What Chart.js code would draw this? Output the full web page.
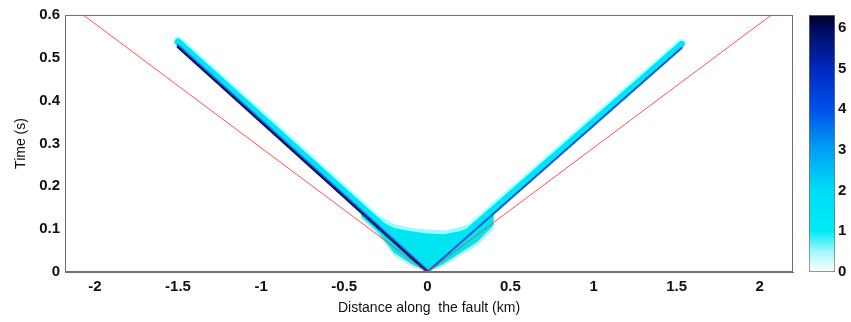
<!DOCTYPE html>
<html>
<head>
<meta charset="utf-8">
<script src="https://cdn.jsdelivr.net/npm/chart.js@4.4.1/dist/chart.umd.min.js"></script>
<style>
  body { margin: 0; background: #fff; }
  #wrap { position: relative; width: 851px; height: 322px; }
  #main { position: absolute; left: 0; top: 0; }
  #cbar { position: absolute; left: 800px; top: 0; }
</style>
</head>
<body>
<div id="wrap">
  <canvas id="main" width="800" height="322"></canvas>
  <canvas id="cbar" width="51" height="322"></canvas>
</div>
<script>
// reference lines (red)
const redX = [-2.07, 0, 2.07];
const redT = [0.6, 0, 0.6];

// rupture front branches
const leftX = [0, -1.5];
const leftT = [0, 0.525];
const leftMidT = [0.004, 0.529];
const leftCyanT = [0.013, 0.537];
const leftHaloT = [0.018, 0.54];

const rightX = [0, 1.53];
const rightT = [0, 0.523];
const rightCyanT = [0.011, 0.532];
const rightHaloT = [0.016, 0.535];

// nucleation blob near the hypocentre
const blobX = [-0.4, -0.3, -0.2, -0.1, 0, 0.1, 0.2, 0.3, 0.4];
const blobTop = [0.148, 0.122, 0.103, 0.095, 0.09, 0.088, 0.096, 0.11, 0.145];
const blobBottom = [0.13, 0.095, 0.045, 0.02, 0, 0.02, 0.045, 0.07, 0.11];
const blobOuterTop = [0.158, 0.133, 0.112, 0.103, 0.099, 0.097, 0.105, 0.119, 0.155];
const blobOuterBottom = [0.125, 0.088, 0.038, 0.014, 0, 0.014, 0.038, 0.062, 0.1];

// colorbar
const cbarMax = 6.32;
const cbarTicks = [0, 1, 2, 3, 4, 5, 6];
const cmapValues = [0, 0.5, 1, 2, 3, 4, 5, 6, 6.32];
const cmapColors = ['#ffffff', '#a0f8ff', '#00ebf5', '#00dcf5', '#00a0f5', '#0050eb', '#0028be', '#000a5a', '#00001e'];

const FONT = '"Liberation Sans", Arial, sans-serif';

function pts(xs, ts) {
  return xs.map((x, i) => ({ x: x, y: ts[i] }));
}

function lineSet(xs, ts, color, width, order) {
  return {
    data: pts(xs, ts),
    showLine: true,
    borderColor: color,
    borderWidth: width,
    borderCapStyle: 'round',
    pointRadius: 0,
    fill: false,
    order: order
  };
}

const frame = {
  id: 'frame',
  afterDatasetsDraw(chart) {
    const a = chart.chartArea;
    const c = chart.ctx;
    c.save();
    c.strokeStyle = '#707070';
    c.lineWidth = 1;
    c.strokeRect(a.left + 0.5, a.top + 0.5, a.right - a.left - 1, a.bottom - a.top - 1);
    c.restore();
  }
};

const tickFont = { family: FONT, size: 15, weight: 'bold' };

new Chart(document.getElementById('main'), {
  type: 'scatter',
  data: {
    datasets: [
      lineSet(redX, redT, 'rgba(255,60,60,0.9)', 1, 0),
      lineSet(leftX, leftT, '#001478', 2.5, 1),
      lineSet(rightX, rightT, '#0064eb', 2, 1),
      lineSet(leftX, leftMidT, '#0096f5', 3, 2),
      Object.assign(lineSet(blobX, blobTop, 'rgba(0,0,0,0)', 0, 3), { fill: '+1', backgroundColor: '#00e6f0' }),
      lineSet(blobX, blobBottom, 'rgba(0,0,0,0)', 0, 3),
      lineSet(leftX, leftCyanT, '#00e6f0', 7, 4),
      lineSet(rightX, rightCyanT, '#00e6f0', 6.5, 4),
      Object.assign(lineSet(blobX, blobOuterTop, 'rgba(0,0,0,0)', 0, 5), { fill: '+1', backgroundColor: '#a8f5fa' }),
      lineSet(blobX, blobOuterBottom, 'rgba(0,0,0,0)', 0, 5),
      lineSet(leftX, leftHaloT, '#c0f9ff', 9, 6),
      lineSet(rightX, rightHaloT, '#c0f9ff', 8.5, 6)
    ]
  },
  options: {
    responsive: false,
    animation: false,
    devicePixelRatio: 1,
    layout: { padding: { left: 0, top: 15, right: 7, bottom: 0 } },
    plugins: { legend: { display: false }, tooltip: { enabled: false } },
    scales: {
      x: {
        type: 'linear',
        min: -2.18,
        max: 2.2,
        grid: { display: false, drawTicks: false },
        border: { color: '#707070' },
        afterBuildTicks: s => { s.ticks = [-2, -1.5, -1, -0.5, 0, 0.5, 1, 1.5, 2].map(v => ({ value: v })); },
        afterFit: s => { s.height = 50; },
        ticks: { color: '#111', font: tickFont, padding: 6, callback: v => String(v) },
        title: { display: true, text: 'Distance along  the fault (km)', color: '#111', font: { family: FONT, size: 14 }, padding: { top: 0, bottom: 5 } }
      },
      y: {
        type: 'linear',
        min: 0,
        max: 0.6,
        grid: { display: false, drawTicks: false },
        border: { color: '#707070' },
        afterBuildTicks: s => { s.ticks = [0, 0.1, 0.2, 0.3, 0.4, 0.5, 0.6].map(v => ({ value: v })); },
        afterFit: s => { s.width = 65; },
        ticks: { color: '#111', font: tickFont, padding: 5, callback: v => String(v) },
        title: { display: true, text: 'Time (s)', color: '#111', font: { family: FONT, size: 14 }, padding: { top: 13, bottom: 0 } }
      }
    }
  },
  plugins: [frame]
});

new Chart(document.getElementById('cbar'), {
  type: 'bar',
  data: {
    labels: [''],
    datasets: [{
      data: [cbarMax],
      barPercentage: 1,
      categoryPercentage: 1,
      borderWidth: 1,
      borderColor: '#707070',
      borderSkipped: false,
      backgroundColor: ctx => {
        const chart = ctx.chart;
        const ys = chart.scales.y;
        if (!chart.chartArea || !ys) return cmapColors[2];
        const y0 = ys.getPixelForValue(0);
        const y1 = ys.getPixelForValue(cbarMax);
        if (!isFinite(y0) || !isFinite(y1)) return cmapColors[2];
        const g = chart.ctx.createLinearGradient(0, y0, 0, y1);
        cmapValues.forEach((v, i) => g.addColorStop(v / cbarMax, cmapColors[i]));
        return g;
      }
    }]
  },
  options: {
    responsive: false,
    animation: false,
    devicePixelRatio: 1,
    layout: { padding: { left: 9, top: 15, right: 0, bottom: 50 } },
    plugins: { legend: { display: false }, tooltip: { enabled: false } },
    scales: {
      x: { display: false },
      y: {
        position: 'right',
        min: 0,
        max: cbarMax,
        grid: { display: false, drawTicks: false },
        border: { display: false },
        afterBuildTicks: s => { s.ticks = cbarTicks.map(v => ({ value: v })); },
        afterFit: s => { s.width = 16; },
        ticks: { color: '#111', font: tickFont, padding: 3 }
      }
    }
  }
});
</script>
</body>
</html>
